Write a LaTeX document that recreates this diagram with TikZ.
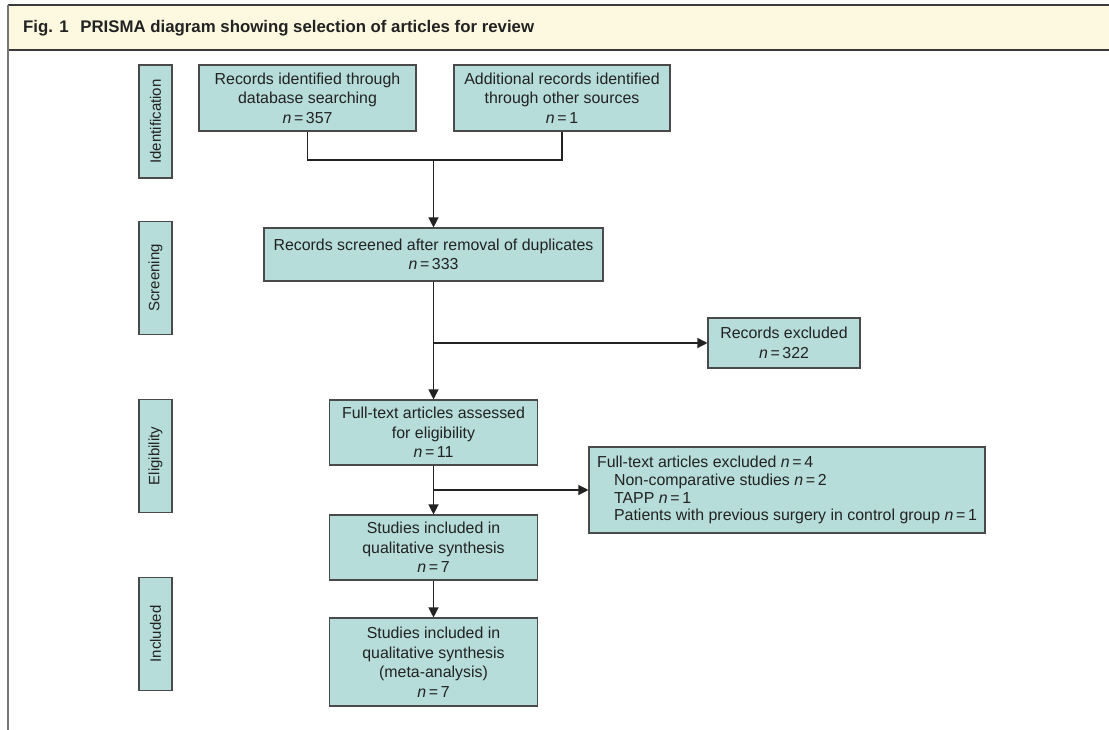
\documentclass[tikz,border=0pt]{standalone}
\usepackage{fontspec}
\setmainfont{Liberation Sans}
\usetikzlibrary{arrows.meta}
\definecolor{boxfill}{HTML}{B6DDD9}
\definecolor{boxline}{HTML}{4A4A4A}
\definecolor{txt}{HTML}{222222}
\definecolor{headfill}{HTML}{FDF9E0}
\definecolor{headline}{HTML}{3A3A3A}
\newcommand{\nn}[1]{\textit{n}\,=\,#1}
\tikzset{
  mainbox/.style={draw=boxline, line width=1.1pt, fill=boxfill, text=txt, align=center, inner sep=0pt,
    font=\fontsize{15.9}{19.5}\selectfont},
  sidebox/.style={draw=boxline, line width=1.1pt, fill=boxfill, text=txt, inner sep=0pt, rotate=90,
    minimum width=113pt, minimum height=33pt, font=\fontsize{15}{18}\selectfont},
  conn/.style={draw=txt, line width=1.2pt},
  arr/.style={conn, -{Triangle[length=10pt,width=10pt]}},
}
\begin{document}
\begin{tikzpicture}[x=1pt,y=-1pt]
\useasboundingbox (0,0) rectangle (1109,730);
% header
\fill[headfill] (8,5) rectangle (1109,50);
\draw[headline, line width=1.2pt] (8,5) -- (1109,5);
\draw[headline, line width=1.2pt] (8,50) -- (1109,50);
\draw[headline!70, line width=1.1pt] (8,5) -- (8,730);
\node[anchor=base west, inner sep=0pt, text=txt, font=\bfseries\fontsize{16.8}{18}\selectfont] (title) at (23,33)
  {Fig. 1\hspace{0.7em}PRISMA diagram showing selection of articles for review};
% side labels
\node[sidebox] (sid) at (155.5,121.5) {Identification};
\node[sidebox] (sscr) at (155.5,278) {Screening};
\node[sidebox] (selig) at (155.5,456) {Eligibility};
\node[sidebox] (sinc) at (155.5,634) {Included};
% main boxes
\node[mainbox, minimum width=217pt, minimum height=66pt] (db) at (307.5,98)
  {Records identified through\\database searching\\\nn{357}};
\node[mainbox, minimum width=216pt, minimum height=66pt] (other) at (562,98)
  {Additional records identified\\through other sources\\\nn{1}};
\node[mainbox, minimum width=339pt, minimum height=53pt] (scr) at (433.5,254.5)
  {Records screened after removal of duplicates\\\nn{333}};
\node[mainbox, minimum width=152pt, minimum height=50pt] (exc) at (784,343)
  {Records excluded\\\nn{322}};
\node[mainbox, minimum width=208pt, minimum height=65pt] (full) at (433.5,432.5)
  {Full-text articles assessed\\for eligibility\\\nn{11}};
\node[draw=boxline, line width=1.1pt, fill=boxfill, text=txt, align=left, inner sep=0pt,
  minimum width=396pt, minimum height=86pt, font=\fontsize{15.9}{17.8}\selectfont] (fexc) at (787,490)
  {Full-text articles excluded \nn{4}\\
   \hspace*{17pt}Non-comparative studies \nn{2}\\
   \hspace*{17pt}TAPP \nn{1}\\
   \hspace*{17pt}Patients with previous surgery in control group \nn{1}};
\node[mainbox, minimum width=208pt, minimum height=65pt] (qual) at (433.5,547.5)
  {Studies included in\\qualitative synthesis\\\nn{7}};
\node[mainbox, minimum width=208pt, minimum height=88pt] (meta) at (433.5,662)
  {Studies included in\\qualitative synthesis\\(meta-analysis)\\\nn{7}};
% connectors
\coordinate (j1) at (433.5,160);
\coordinate (j2) at (433.5,343);
\coordinate (j3) at (433.5,490);
\draw[conn] (db.south) -- (db.south |- j1) -- (other.south |- j1) -- (other.south);
\draw[arr] (j1) -- (scr.north);
\draw[arr] (scr.south) -- (full.north);
\draw[arr] (j2) -- (j2 -| exc.west);
\draw[arr] (full.south) -- (qual.north);
\draw[arr] (j3) -- (j3 -| fexc.west);
\draw[arr] (qual.south) -- (meta.north);
\end{tikzpicture}
\end{document}
